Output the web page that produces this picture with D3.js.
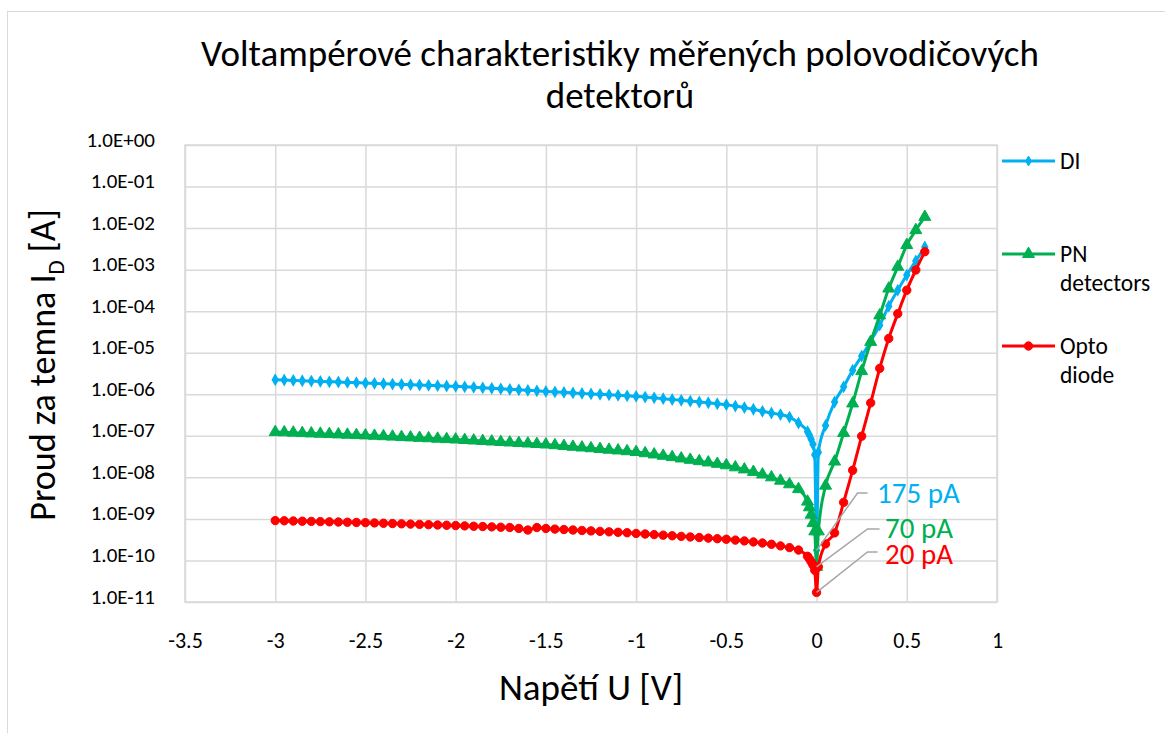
<!DOCTYPE html>
<html><head><meta charset="utf-8">
<script src="https://cdn.jsdelivr.net/npm/d3@7"></script>
<style>
body{margin:0;background:#fff;}
svg{display:block;font-family:Carlito,Calibri,Lato,sans-serif;}
</style>
</head><body>
<svg id="chart" width="1165" height="733"></svg>
<script>
// ---------- DATA ----------
const voltages = [
 -3.00,-2.95,-2.90,-2.85,-2.80,-2.75,-2.70,-2.65,-2.60,-2.55,
 -2.50,-2.45,-2.40,-2.35,-2.30,-2.25,-2.20,-2.15,-2.10,-2.05,
 -2.00,-1.95,-1.90,-1.85,-1.80,-1.75,-1.70,-1.65,-1.60,-1.55,
 -1.50,-1.45,-1.40,-1.35,-1.30,-1.25,-1.20,-1.15,-1.10,-1.05,
 -1.00,-0.95,-0.90,-0.85,-0.80,-0.75,-0.70,-0.65,-0.60,-0.55,
 -0.50,-0.45,-0.40,-0.35,-0.30,-0.25,-0.20,-0.15,-0.10,-0.05,
 -0.04,-0.03,-0.02,-0.01,0.00,0.01,
 0.05,0.10,0.15,0.20,0.25,0.30,0.35,0.40,0.45,0.50,0.55,0.60
];
const diValues = [
 2.24e-6,2.20e-6,2.16e-6,2.12e-6,2.08e-6,2.04e-6,2.00e-6,1.97e-6,1.93e-6,1.90e-6,
 1.86e-6,1.83e-6,1.79e-6,1.76e-6,1.73e-6,1.70e-6,1.67e-6,1.64e-6,1.61e-6,1.58e-6,
 1.55e-6,1.51e-6,1.47e-6,1.43e-6,1.39e-6,1.35e-6,1.31e-6,1.28e-6,1.24e-6,1.21e-6,
 1.17e-6,1.14e-6,1.11e-6,1.08e-6,1.05e-6,1.02e-6,9.95e-7,9.68e-7,9.42e-7,9.16e-7,
 8.91e-7,8.55e-7,8.20e-7,7.85e-7,7.50e-7,7.16e-7,6.84e-7,6.53e-7,6.24e-7,5.93e-7,
 5.62e-7,5.19e-7,4.79e-7,4.37e-7,3.89e-7,3.55e-7,3.24e-7,2.82e-7,2.04e-7,1.26e-7,
 1.05e-7,8.3e-8,6.3e-8,3.5e-8,1.75e-10,4.0e-8,
 1.78e-7,6.5e-7,1.51e-6,3.8e-6,8.3e-6,1.9e-5,4.6e-5,1.32e-4,3.2e-4,7.4e-4,1.62e-3,3.5e-3
];
const pnValues = [
 1.23e-7,1.21e-7,1.19e-7,1.16e-7,1.14e-7,1.12e-7,1.10e-7,1.08e-7,1.06e-7,1.04e-7,
 1.02e-7,1.00e-7,9.77e-8,9.55e-8,9.33e-8,9.12e-8,8.91e-8,8.71e-8,8.51e-8,8.32e-8,
 8.13e-8,7.91e-8,7.69e-8,7.48e-8,7.28e-8,7.08e-8,6.89e-8,6.70e-8,6.52e-8,6.34e-8,
 6.17e-8,5.92e-8,5.68e-8,5.44e-8,5.22e-8,5.01e-8,4.81e-8,4.61e-8,4.43e-8,4.25e-8,
 4.07e-8,3.80e-8,3.55e-8,3.30e-8,3.06e-8,2.84e-8,2.64e-8,2.45e-8,2.28e-8,2.11e-8,
 1.95e-8,1.74e-8,1.55e-8,1.35e-8,1.17e-8,1.00e-8,8.3e-9,6.8e-9,5.2e-9,2.6e-9,
 1.9e-9,1.26e-9,7.9e-10,5.0e-10,7.0e-11,5.0e-10,
 6.3e-9,2.4e-8,1.17e-7,6.0e-7,3.6e-6,1.82e-5,7.9e-5,3.5e-4,1.17e-3,3.9e-3,8.9e-3,1.86e-2
];
const optoValues = [
 9.12e-10,9.02e-10,8.91e-10,8.81e-10,8.71e-10,8.61e-10,8.51e-10,8.41e-10,8.32e-10,8.22e-10,
 8.13e-10,8.00e-10,7.87e-10,7.74e-10,7.62e-10,7.50e-10,7.38e-10,7.26e-10,7.14e-10,7.03e-10,
 6.92e-10,6.79e-10,6.67e-10,6.55e-10,6.43e-10,6.31e-10,6.20e-10,5.90e-10,5.40e-10,6.20e-10,
 5.89e-10,5.69e-10,5.55e-10,5.41e-10,5.27e-10,5.14e-10,5.01e-10,4.89e-10,4.76e-10,4.65e-10,
 4.47e-10,4.33e-10,4.19e-10,4.06e-10,3.93e-10,3.80e-10,3.68e-10,3.56e-10,3.45e-10,3.34e-10,
 3.24e-10,3.09e-10,2.95e-10,2.79e-10,2.63e-10,2.45e-10,2.24e-10,2.04e-10,1.78e-10,1.26e-10,
 1.10e-10,9.3e-11,7.8e-11,5.8e-11,1.7e-11,7.0e-11,
 2.5e-10,4.6e-10,2.5e-9,1.48e-8,9.8e-8,6.2e-7,4.2e-6,2.2e-5,8.7e-5,3.2e-4,9.8e-4,2.7e-3
];
const seriesNames = ["DI", "PN detectors", "Opto diode"];
const xTickValues = [-3.5,-3,-2.5,-2,-1.5,-1,-0.5,0,0.5,1];
const xTickLabels = ["-3.5","-3","-2.5","-2","-1.5","-1","-0.5","0","0.5","1"];
const yTickValues = [1e-11,1e-10,1e-9,1e-8,1e-7,1e-6,1e-5,1e-4,1e-3,1e-2,1e-1,1];
const yTickLabels = ["1.0E-11","1.0E-10","1.0E-09","1.0E-08","1.0E-07","1.0E-06","1.0E-05","1.0E-04","1.0E-03","1.0E-02","1.0E-01","1.0E+00"];
const annotationTexts = ["175 pA", "70 pA", "20 pA"];
const titleLines = ["Voltampérové charakteristiky měřených polovodičových", "detektorů"];

// ---------- SETUP ----------
const colors = ["#00B0F0", "#00B050", "#FF0000"];
const series = [diValues, pnValues, optoValues].map((vals, i) => ({
  name: seriesNames[i], color: colors[i],
  points: voltages.map((v, j) => ({x: v, y: vals[j]}))
}));

const svg = d3.select("#chart");
const W = 1165, H = 733;
const plot = {left: 185, right: 997, top: 145, bottom: 602};

const x = d3.scaleLinear().domain([-3.5, 1]).range([plot.left, plot.right]);
const y = d3.scaleLog().domain([1e-11, 1]).range([plot.bottom, plot.top]);

svg.append("rect").attr("width", W).attr("height", H).attr("fill", "#fff");
// chart area border
svg.append("rect").attr("x", 7.5).attr("y", 11.5).attr("width", 1200).attr("height", 800)
  .attr("fill", "none").attr("stroke", "#D9D9D9").attr("stroke-width", 1);

const gridColor = "#D9D9D9";
// gridlines
const gx = svg.append("g").attr("transform", `translate(0,${plot.bottom})`)
  .call(d3.axisBottom(x).tickValues(xTickValues).tickSize(-(plot.bottom - plot.top)).tickFormat(""));
gx.selectAll("line").attr("stroke", gridColor).attr("stroke-width", 1.5);
gx.select(".domain").remove();
const gy = svg.append("g").attr("transform", `translate(${plot.left},0)`)
  .call(d3.axisLeft(y).tickValues(yTickValues).tickSize(-(plot.right - plot.left)).tickFormat(""));
gy.selectAll("line").attr("stroke", gridColor).attr("stroke-width", 1.5);
gy.select(".domain").remove();

// tick labels
const ax = svg.append("g").attr("transform", `translate(0,${plot.bottom})`)
  .attr("font-size", 22)
  .call(d3.axisBottom(x).tickValues(xTickValues).tickSize(0).tickPadding(0)
    .tickFormat((d, i) => xTickLabels[i]));
ax.attr("font-size", 22).attr("font-family", null);
ax.select(".domain").remove();
ax.selectAll("text").attr("fill", "#000").attr("y", 46).attr("dy", 0);

const ay = svg.append("g").attr("transform", `translate(${plot.left},0)`)
  .call(d3.axisLeft(y).tickValues(yTickValues).tickSize(0).tickPadding(0)
    .tickFormat((d, i) => yTickLabels[i]));
ay.attr("font-size", 21).attr("font-family", null);
ay.select(".domain").remove();
ay.selectAll("text").attr("fill", "#000").attr("x", -30).attr("y", 1).attr("dy", 0);

// plot area border
svg.append("rect").attr("x", plot.left).attr("y", plot.top)
  .attr("width", plot.right - plot.left).attr("height", plot.bottom - plot.top)
  .attr("fill", "none").attr("stroke", gridColor).attr("stroke-width", 1.5);

// ---------- SERIES ----------
const line = d3.line().x(d => x(d.x)).y(d => y(d.y)).curve(d3.curveMonotoneX);
const symbols = [
  d3.symbol().type(d3.symbolDiamond).size(28),
  d3.symbol().type(d3.symbolTriangle).size(62),
  d3.symbol().type(d3.symbolCircle).size(55)
];

series.forEach((s, i) => {
  const g = svg.append("g");
  g.append("path").datum(s.points).attr("d", line)
    .attr("fill", "none").attr("stroke", s.color).attr("stroke-width", 3)
    .attr("stroke-linejoin", "round");
  g.selectAll("path.m").data(s.points).enter().append("path").attr("class", "m")
    .attr("d", symbols[i])
    .attr("transform", d => `translate(${x(d.x)},${y(d.y)})`)
    .attr("fill", s.color).attr("stroke", s.color).attr("stroke-width", i === 0 ? 1.5 : 1);
});

// ---------- ANNOTATIONS ----------
const zeroIdx = voltages.indexOf(0);
const annSpecs = [
  {s: 0, dx1: 41, ey: 493, dx2: 51, tx: 877, ty: 503},
  {s: 1, dx1: 51, ey: 529, dx2: 63, tx: 885, ty: 538},
  {s: 2, dx1: 51, ey: 552, dx2: 61, tx: 885, ty: 564}
];
annSpecs.forEach((a, k) => {
  const p = series[a.s].points[zeroIdx];
  const px = x(p.x), py = y(p.y);
  svg.append("polyline")
    .attr("points", `${px},${py} ${px + a.dx1},${a.ey} ${px + a.dx2},${a.ey}`)
    .attr("fill", "none").attr("stroke", "#A6A6A6").attr("stroke-width", 1.5);
  svg.append("text").attr("x", a.tx).attr("y", a.ty)
    .attr("font-size", 29).attr("fill", colors[a.s]).text(annotationTexts[k]);
});

// ---------- LEGEND ----------
const legendY = [161, 254, 346];
series.forEach((s, i) => {
  const g = svg.append("g");
  g.append("line").attr("x1", 1002).attr("x2", 1055).attr("y1", legendY[i]).attr("y2", legendY[i])
    .attr("stroke", s.color).attr("stroke-width", 3);
  g.append("path").attr("d", symbols[i]).attr("transform", `translate(1028.5,${legendY[i]})`)
    .attr("fill", s.color).attr("stroke", s.color);
  const words = s.name.split(" ");
  words.forEach((w, j) => {
    g.append("text").attr("x", 1060).attr("y", legendY[i] + 8 + j * 29)
      .attr("font-size", 23.5).attr("fill", "#000").text(w);
  });
});

// ---------- TITLES ----------
titleLines.forEach((t, i) => {
  svg.append("text").attr("x", 620).attr("y", 66 + i * 42).attr("text-anchor", "middle")
    .attr("font-size", 37).attr("fill", "#000").text(t);
});
const yt = svg.append("text").attr("transform", "translate(55,365) rotate(-90)")
  .attr("text-anchor", "middle").attr("font-size", 36).attr("fill", "#000");
yt.append("tspan").text("Proud za temna I");
yt.append("tspan").attr("font-size", 23).attr("dy", 9).text("D");
yt.append("tspan").attr("dy", -9).text(" [A]");

svg.append("text").attr("x", 591).attr("y", 700).attr("text-anchor", "middle")
  .attr("font-size", 37).attr("fill", "#000").text("Napětí U [V]");
</script>
</body></html>
